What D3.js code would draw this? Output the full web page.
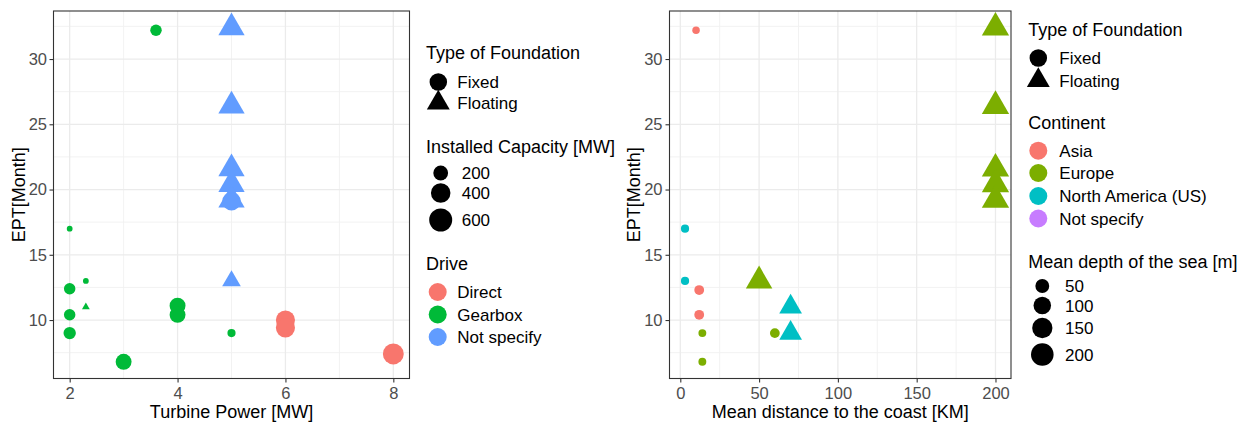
<!DOCTYPE html>
<html>
<head>
<meta charset="utf-8">
<script src="https://cdn.jsdelivr.net/npm/d3@7"></script>
<style>
  html, body { margin: 0; padding: 0; background: #ffffff; }
  svg { display: block; font-family: "Liberation Sans", Arial, Helvetica, sans-serif; }
</style>
</head>
<body>
<svg id="chart" width="1247" height="422"></svg>
<script>
// ---- Left panel: turbine power vs. EPT ----
const powerMW     = [3.6, 2, 2.3, 2.3, 2, 2, 2, 4, 4, 5, 3, 6, 6, 8, 5, 5, 5, 5, 5, 5, 5];
const eptByPower  = [32.2, 17.0, 13.0, 11.0, 12.4, 10.4, 9.0, 11.1, 10.4, 9.0, 6.8, 10.0, 9.4, 7.4, 19.1, 32.4, 26.4, 21.6, 20.4, 19.2, 13.0];
const foundationA = ["Fixed", "Fixed", "Fixed", "Floating", "Fixed", "Fixed", "Fixed", "Fixed", "Fixed", "Fixed", "Fixed",
                     "Fixed", "Fixed", "Fixed", "Fixed", "Floating", "Floating", "Floating", "Floating", "Floating", "Floating"];
const capacityMW  = [110, 50, 50, 50, 110, 110, 130, 240, 240, 60, 240, 380, 380, 470, 350, 400, 400, 400, 400, 400, 170];
const drive       = ["Gearbox", "Gearbox", "Gearbox", "Gearbox", "Gearbox", "Gearbox", "Gearbox", "Gearbox", "Gearbox", "Gearbox", "Gearbox",
                     "Direct", "Direct", "Direct", "Not specify", "Not specify", "Not specify", "Not specify", "Not specify", "Not specify", "Not specify"];

// ---- Right panel: distance to coast vs. EPT ----
const distanceKM     = [10, 3, 3, 12, 12, 14, 14, 60, 50, 70, 70, 200, 200, 200, 200, 200];
const eptByDistance  = [32.2, 17.0, 13.0, 12.3, 10.4, 9.0, 6.8, 9.0, 13.0, 11.0, 9.0, 32.4, 26.4, 21.6, 20.4, 19.2];
const foundationB    = ["Fixed", "Fixed", "Fixed", "Fixed", "Fixed", "Fixed", "Fixed", "Fixed",
                        "Floating", "Floating", "Floating", "Floating", "Floating", "Floating", "Floating", "Floating"];
const continent      = ["Asia", "North America (US)", "North America (US)", "Asia", "Asia", "Europe", "Europe", "Europe",
                        "Europe", "North America (US)", "North America (US)", "Europe", "Europe", "Europe", "Europe", "Europe"];
const depthM         = [7, 9, 9, 16, 16, 8, 8, 16, 138, 90, 90, 150, 150, 150, 150, 150];

// ---- Levels, breaks and limits ----
const foundationLevels = ["Fixed", "Floating"];
const driveLevels      = ["Direct", "Gearbox", "Not specify"];
const continentLevels  = ["Asia", "Europe", "North America (US)", "Not specify"];
const capacityBreaks   = [200, 400, 600];
const depthBreaks      = [50, 100, 150, 200];
const capacityLimits   = [50, 600];
const depthLimits      = [5, 210];
const powerTicks       = [2, 4, 6, 8];
const distanceTicks    = [0, 50, 100, 150, 200];
const eptTicks         = [10, 15, 20, 25, 30];

// ---- Shared styling ----
const driveColor = d3.scaleOrdinal().domain(driveLevels).range(["#F8766D", "#00BA38", "#619CFF"]);
const continentColor = d3.scaleOrdinal().domain(continentLevels).range(["#F8766D", "#7CAE00", "#00BFC4", "#C77CFF"]);
const shapeType = d3.scaleOrdinal().domain(foundationLevels).range([d3.symbolCircle, d3.symbolTriangle]);

// point diameter grows with the square root of the value (equal-area symbols)
const DIAM = [5.8, 23];
function sizeScale(limits) {
  const s = d3.scaleSqrt().domain([0, limits[1] - limits[0]]).range(DIAM).clamp(true);
  return v => s(v - limits[0]);
}
const capacityDiam = sizeScale(capacityLimits);
const depthDiam = sizeScale(depthLimits);

const symbolPath = (shape, diam) =>
  d3.symbol().type(shapeType(shape)).size(Math.PI * (diam / 2) * (diam / 2))();

const expand = ([a, b]) => [a - (b - a) * 0.05, b + (b - a) * 0.05];

function minorBreaks(major, domain) {
  const step = major[1] - major[0];
  const ext = [major[0] - step, ...major, major[major.length - 1] + step];
  const out = [];
  for (let i = 0; i < ext.length - 1; i++) {
    const m = (ext[i] + ext[i + 1]) / 2;
    if (m >= domain[0] && m <= domain[1]) out.push(m);
  }
  return out;
}

const svg = d3.select("#chart");

function drawPanel(cfg) {
  const { left, right, top, bottom, xs, ys, shapes, sizes, colors, xTicks, xTitle, yTitleX, labelPad } = cfg;
  const x = d3.scaleLinear().domain(expand(d3.extent(xs))).range([left, right]);
  const y = d3.scaleLinear().domain(expand(d3.extent(ys))).range([bottom, top]);
  const g = svg.append("g");

  // grid
  const grid = g.append("g");
  minorBreaks(xTicks, x.domain()).forEach(v => grid.append("line")
    .attr("x1", x(v)).attr("x2", x(v)).attr("y1", top).attr("y2", bottom)
    .attr("stroke", "#F0F0F0").attr("stroke-width", 0.9));
  minorBreaks(eptTicks, y.domain()).forEach(v => grid.append("line")
    .attr("x1", left).attr("x2", right).attr("y1", y(v)).attr("y2", y(v))
    .attr("stroke", "#F0F0F0").attr("stroke-width", 0.9));
  xTicks.forEach(v => grid.append("line")
    .attr("x1", x(v)).attr("x2", x(v)).attr("y1", top).attr("y2", bottom)
    .attr("stroke", "#EBEBEB").attr("stroke-width", 1.3));
  eptTicks.forEach(v => grid.append("line")
    .attr("x1", left).attr("x2", right).attr("y1", y(v)).attr("y2", y(v))
    .attr("stroke", "#EBEBEB").attr("stroke-width", 1.3));

  // points: fixed foundations first, floating on top
  const rows = xs.map((v, i) => ({ x: v, y: ys[i], shape: shapes[i], d: sizes[i], color: colors[i], i }));
  rows.sort((a, b) => (a.shape === b.shape ? a.i - b.i : (a.shape === "Fixed" ? -1 : 1)));
  g.append("g").selectAll("path").data(rows).join("path")
    .attr("transform", r => `translate(${x(r.x)},${y(r.y)})`)
    .attr("d", r => symbolPath(r.shape, r.d))
    .attr("fill", r => r.color);

  // axes
  const xAxis = g.append("g").attr("transform", `translate(0,${bottom})`)
    .call(d3.axisBottom(x).tickValues(xTicks).tickSize(4).tickSizeOuter(0).tickPadding(5).tickFormat(d3.format("d")));
  const yAxis = g.append("g").attr("transform", `translate(${left},0)`)
    .call(d3.axisLeft(y).tickValues(eptTicks).tickSize(4).tickSizeOuter(0).tickPadding(labelPad).tickFormat(d3.format("d")));
  [xAxis, yAxis].forEach(a => {
    a.select(".domain").remove();
    a.selectAll(".tick line").attr("stroke", "#333333").attr("stroke-width", 1.1);
    a.selectAll(".tick text").attr("fill", "#4D4D4D").style("font-size", "16.5px")
      .style("font-family", "'Liberation Sans', Arial, sans-serif");
  });

  // panel border
  g.append("rect").attr("x", left).attr("y", top).attr("width", right - left).attr("height", bottom - top)
    .attr("fill", "none").attr("stroke", "#333333").attr("stroke-width", 1.1);

  // titles
  g.append("text").attr("x", (left + right) / 2).attr("y", 417.5).attr("text-anchor", "middle")
    .style("font-size", "18px").attr("fill", "#000").text(xTitle);
  g.append("text").attr("transform", `translate(${yTitleX},${(top + bottom) / 2}) rotate(-90)`)
    .attr("text-anchor", "middle").style("font-size", "18px").attr("fill", "#000").text("EPT[Month]");
}

drawPanel({
  left: 53.5, right: 409.5, top: 11, bottom: 378.5,
  xs: powerMW, ys: eptByPower, shapes: foundationA,
  sizes: capacityMW.map(capacityDiam), colors: drive.map(driveColor),
  xTicks: powerTicks, xTitle: "Turbine Power [MW]", yTitleX: 24.5, labelPad: 2.5
});
drawPanel({
  left: 669.5, right: 1011, top: 11, bottom: 378.5,
  xs: distanceKM, ys: eptByDistance, shapes: foundationB,
  sizes: depthM.map(depthDiam), colors: continent.map(continentColor),
  xTicks: distanceTicks, xTitle: "Mean distance to the coast [KM]", yTitleX: 639.5, labelPad: 3
});

// ---- Legends ----
function legendBlock(g, b) {
  g.append("text").attr("x", b.titleX).attr("y", b.titleY).style("font-size", "18px").attr("fill", "#000").text(b.title);
  b.items.forEach(it => {
    g.append("path").attr("transform", `translate(${b.keyX},${it.cy})`)
      .attr("d", symbolPath(it.shape, it.d)).attr("fill", it.color);
    g.append("text").attr("x", b.labelX).attr("y", it.cy).attr("dy", "0.36em")
      .style("font-size", "17px").attr("fill", "#000").text(it.label);
  });
}
const shapeKeyDiam = { Fixed: 17.5, Floating: 17 };
const lg = svg.append("g");

// left legends
legendBlock(lg, {
  title: "Type of Foundation", titleX: 426, titleY: 59, keyX: 438.3, labelX: 457.3,
  items: foundationLevels.map((f, i) => ({ label: f, cy: [82, 103][i], shape: f, d: shapeKeyDiam[f], color: "#000" }))
});
legendBlock(lg, {
  title: "Installed Capacity [MW]", titleX: 426, titleY: 153, keyX: 440.7, labelX: 461.7,
  items: capacityBreaks.map((v, i) => ({ label: String(v), cy: [173, 193, 220][i], shape: "Fixed", d: capacityDiam(v), color: "#000" }))
});
legendBlock(lg, {
  title: "Drive", titleX: 426, titleY: 270, keyX: 437.7, labelX: 457.3,
  items: driveLevels.map((v, i) => ({ label: v, cy: [292, 314.5, 337][i], shape: "Fixed", d: 18, color: driveColor(v) }))
});

// right legends
legendBlock(lg, {
  title: "Type of Foundation", titleX: 1028.3, titleY: 36, keyX: 1038.3, labelX: 1059.3,
  items: foundationLevels.map((f, i) => ({ label: f, cy: [58, 80.5][i], shape: f, d: shapeKeyDiam[f], color: "#000" }))
});
legendBlock(lg, {
  title: "Continent", titleX: 1028.3, titleY: 129, keyX: 1038.3, labelX: 1059.3,
  items: continentLevels.map((v, i) => ({ label: v, cy: [150.7, 173, 196, 218.5][i], shape: "Fixed", d: 18, color: continentColor(v) }))
});
legendBlock(lg, {
  title: "Mean depth of the sea [m]", titleX: 1028.3, titleY: 268, keyX: 1042.3, labelX: 1065,
  items: depthBreaks.map((v, i) => ({ label: String(v), cy: [286, 305.5, 328, 354.5][i], shape: "Fixed", d: depthDiam(v), color: "#000" }))
});
</script>
</body>
</html>
